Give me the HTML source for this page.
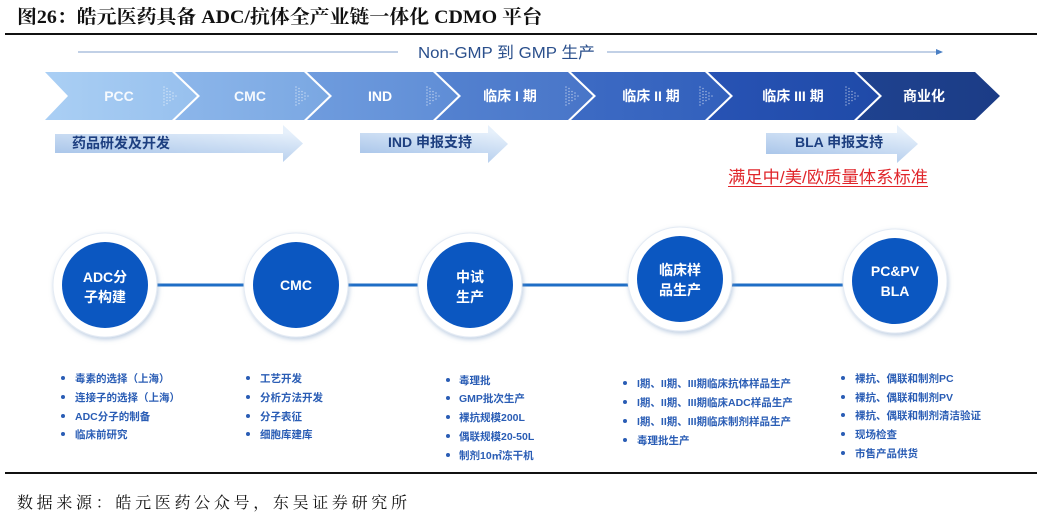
<!DOCTYPE html>
<html><head><meta charset="utf-8">
<style>
html,body{margin:0;padding:0;background:#fff;}
svg{display:block;}
.t{font-family:"Liberation Serif","Noto Serif CJK SC",serif;}
.s{font-family:"Liberation Sans","Noto Sans CJK SC",sans-serif;}
</style></head>
<body>
<svg width="1053" height="521" viewBox="0 0 1053 521" xmlns="http://www.w3.org/2000/svg">
<defs>
  <linearGradient id="ag" x1="0" y1="1" x2="0.55" y2="0">
    <stop offset="0" stop-color="#9dbde6"/>
    <stop offset="1" stop-color="#e6f0fb"/>
  </linearGradient>
  <linearGradient id="c1" x1="0" y1="0" x2="1" y2="0"><stop offset="0" stop-color="#aacff4"/><stop offset="1" stop-color="#97c0ee"/></linearGradient>
  <linearGradient id="c2" x1="0" y1="0" x2="1" y2="0"><stop offset="0" stop-color="#8cb6ea"/><stop offset="1" stop-color="#7aa7e2"/></linearGradient>
  <linearGradient id="c3" x1="0" y1="0" x2="1" y2="0"><stop offset="0" stop-color="#6f9cde"/><stop offset="1" stop-color="#5f8dd6"/></linearGradient>
  <linearGradient id="c4" x1="0" y1="0" x2="1" y2="0"><stop offset="0" stop-color="#5482d0"/><stop offset="1" stop-color="#4875c8"/></linearGradient>
  <linearGradient id="c5" x1="0" y1="0" x2="1" y2="0"><stop offset="0" stop-color="#3d6bc4"/><stop offset="1" stop-color="#3260bc"/></linearGradient>
  <linearGradient id="c6" x1="0" y1="0" x2="1" y2="0"><stop offset="0" stop-color="#2853b4"/><stop offset="1" stop-color="#1f4aa8"/></linearGradient>
  <linearGradient id="c7" x1="0" y1="0" x2="1" y2="0"><stop offset="0" stop-color="#1f428f"/><stop offset="1" stop-color="#1b3c86"/></linearGradient>
  <filter id="sh" x="-30%" y="-30%" width="160%" height="160%">
    <feDropShadow dx="1" dy="2" stdDeviation="2.5" flood-color="#7d9cc4" flood-opacity="0.5"/>
  </filter>
  <g id="dots" fill="#ffffff" fill-opacity="0.5">
    <circle cx="0" cy="-9" r="0.8"/><circle cx="0" cy="-6" r="0.8"/><circle cx="0" cy="-3" r="0.8"/><circle cx="0" cy="0" r="0.8"/><circle cx="0" cy="3" r="0.8"/><circle cx="0" cy="6" r="0.8"/><circle cx="0" cy="9" r="0.8"/>
    <circle cx="3" cy="-7.5" r="0.8"/><circle cx="3" cy="-4.5" r="0.8"/><circle cx="3" cy="-1.5" r="0.8"/><circle cx="3" cy="1.5" r="0.8"/><circle cx="3" cy="4.5" r="0.8"/><circle cx="3" cy="7.5" r="0.8"/>
    <circle cx="6" cy="-4.5" r="0.8"/><circle cx="6" cy="-1.5" r="0.8"/><circle cx="6" cy="1.5" r="0.8"/><circle cx="6" cy="4.5" r="0.8"/>
    <circle cx="9" cy="-3" r="0.8"/><circle cx="9" cy="0" r="0.8"/><circle cx="9" cy="3" r="0.8"/>
    <circle cx="12" cy="0" r="0.8"/>
  </g>
</defs>

<!-- Title -->
<text class="t" x="17" y="23" font-size="19" font-weight="bold" fill="#111" textLength="525" lengthAdjust="spacingAndGlyphs">图26：皓元医药具备 ADC/抗体全产业链一体化 CDMO 平台</text>
<rect x="5" y="33" width="1032" height="2" fill="#111"/>

<!-- Non-GMP line -->
<line x1="78" y1="52" x2="398" y2="52" stroke="#9cb5d6" stroke-width="1.3"/>
<text class="s" x="418" y="58" font-size="16" fill="#2a4f8c" textLength="177" lengthAdjust="spacingAndGlyphs">Non-GMP 到 GMP 生产</text>
<line x1="607" y1="52" x2="938" y2="52" stroke="#9cb5d6" stroke-width="1.3"/>
<polygon points="936,49 943,52 936,55" fill="#4a7fc4"/>

<!-- Chevrons -->
<polygon points="45,72 172,72 197,96 172,120 45,120 68,96" fill="url(#c1)"/>
<polygon points="175,72 304,72 329,96 304,120 175,120 200,96" fill="url(#c2)"/>
<polygon points="307,72 433,72 458,96 433,120 307,120 332,96" fill="url(#c3)"/>
<polygon points="436,72 568,72 593,96 568,120 436,120 461,96" fill="url(#c4)"/>
<polygon points="571,72 705,72 730,96 705,120 571,120 596,96" fill="url(#c5)"/>
<polygon points="708,72 854,72 879,96 854,120 708,120 733,96" fill="url(#c6)"/>
<polygon points="857,72 975,72 1000,96 975,120 857,120 882,96" fill="url(#c7)"/>

<use href="#dots" x="164" y="96"/>
<use href="#dots" x="296" y="96"/>
<use href="#dots" x="427" y="96"/>
<use href="#dots" x="566" y="96"/>
<use href="#dots" x="700" y="96"/>
<use href="#dots" x="846" y="96"/>

<g class="s" font-size="14" font-weight="bold" fill="#ffffff" text-anchor="middle">
  <text x="119" y="101" fill-opacity="0.9">PCC</text>
  <text x="250" y="101" fill-opacity="0.92">CMC</text>
  <text x="380" y="101">IND</text>
  <text x="510" y="101">临床 I 期</text>
  <text x="651" y="101">临床 II 期</text>
  <text x="793" y="101">临床 III 期</text>
  <text x="924" y="101">商业化</text>
</g>

<!-- Support arrows -->
<polygon points="55,134 283,134 283,125 303,143.5 283,162 283,153 55,153" fill="url(#ag)"/>
<polygon points="360,133 488,133 488,125 508,144 488,163 488,153 360,153" fill="url(#ag)"/>
<polygon points="766,133 897,133 897,125 918,144 897,163 897,154 766,154" fill="url(#ag)"/>
<g class="s" font-size="14" font-weight="bold" fill="#1d3f80">
  <text x="72" y="148">药品研发及开发</text>
  <text x="388" y="147">IND 申报支持</text>
  <text x="795" y="147">BLA 申报支持</text>
</g>

<!-- Red standard text -->
<text class="s" x="728" y="183" font-size="17" fill="#e0262b" textLength="200" lengthAdjust="spacingAndGlyphs">满足中/美/欧质量体系标准</text>
<line x1="728" y1="186.5" x2="928" y2="186.5" stroke="#e0262b" stroke-width="1"/>

<!-- Connector lines -->
<g stroke="#1f6ec6" stroke-width="3">
  <line x1="157" y1="285" x2="244" y2="285"/>
  <line x1="348" y1="285" x2="418" y2="285"/>
  <line x1="522" y1="285" x2="628" y2="285"/>
  <line x1="732" y1="285" x2="843" y2="285"/>
</g>

<!-- Circles -->
<g filter="url(#sh)" fill="#ffffff" stroke="#e4ebf4" stroke-width="1">
  <circle cx="105" cy="285" r="52"/>
  <circle cx="296" cy="285" r="52"/>
  <circle cx="470" cy="285" r="52"/>
  <circle cx="680" cy="279" r="52"/>
  <circle cx="895" cy="281" r="52"/>
</g>
<g fill="#0b57c1">
  <circle cx="105" cy="285" r="43"/>
  <circle cx="296" cy="285" r="43"/>
  <circle cx="470" cy="285" r="43"/>
  <circle cx="680" cy="279" r="43"/>
  <circle cx="895" cy="281" r="43"/>
</g>
<g class="s" font-size="14" font-weight="bold" fill="#ffffff" text-anchor="middle">
  <text x="105" y="282">ADC分</text>
  <text x="105" y="302">子构建</text>
  <text x="296" y="290">CMC</text>
  <text x="470" y="282">中试</text>
  <text x="470" y="302">生产</text>
  <text x="680" y="275">临床样</text>
  <text x="680" y="295">品生产</text>
  <text x="895" y="276">PC&amp;PV</text>
  <text x="895" y="296">BLA</text>
</g>

<!-- Bullet lists -->
<g fill="#2a5db5">
  <circle cx="63" cy="378" r="2"/><circle cx="63" cy="397" r="2"/><circle cx="63" cy="416" r="2"/><circle cx="63" cy="434" r="2"/>
  <circle cx="248" cy="378" r="2"/><circle cx="248" cy="397" r="2"/><circle cx="248" cy="416" r="2"/><circle cx="248" cy="434" r="2"/>
  <circle cx="448" cy="380" r="2"/><circle cx="448" cy="398" r="2"/><circle cx="448" cy="417" r="2"/><circle cx="448" cy="436" r="2"/><circle cx="448" cy="455" r="2"/>
  <circle cx="625" cy="383" r="2"/><circle cx="625" cy="402" r="2"/><circle cx="625" cy="421" r="2"/><circle cx="625" cy="440" r="2"/>
  <circle cx="843" cy="378" r="2"/><circle cx="843" cy="397" r="2"/><circle cx="843" cy="415" r="2"/><circle cx="843" cy="434" r="2"/><circle cx="843" cy="453" r="2"/>
</g>
<g class="s" font-size="10.5" font-weight="bold" fill="#2a5db5">
  <text x="75" y="382">毒素的选择（上海）</text>
  <text x="75" y="401">连接子的选择（上海）</text>
  <text x="75" y="420">ADC分子的制备</text>
  <text x="75" y="438">临床前研究</text>

  <text x="260" y="382">工艺开发</text>
  <text x="260" y="401">分析方法开发</text>
  <text x="260" y="420">分子表征</text>
  <text x="260" y="438">细胞库建库</text>

  <text x="459" y="384">毒理批</text>
  <text x="459" y="402">GMP批次生产</text>
  <text x="459" y="421">裸抗规模200L</text>
  <text x="459" y="440">偶联规模20-50L</text>
  <text x="459" y="459">制剂10㎡冻干机</text>

  <text x="637" y="387">I期、II期、III期临床抗体样品生产</text>
  <text x="637" y="406">I期、II期、III期临床ADC样品生产</text>
  <text x="637" y="425">I期、II期、III期临床制剂样品生产</text>
  <text x="637" y="444">毒理批生产</text>

  <text x="855" y="382">裸抗、偶联和制剂PC</text>
  <text x="855" y="401">裸抗、偶联和制剂PV</text>
  <text x="855" y="419">裸抗、偶联和制剂清洁验证</text>
  <text x="855" y="438">现场检查</text>
  <text x="855" y="457">市售产品供货</text>
</g>

<!-- Bottom rule and source -->
<rect x="5" y="472" width="1032" height="2" fill="#111"/>
<text class="t" x="17" y="508" font-size="16" fill="#111" textLength="390" lengthAdjust="spacing">数据来源：皓元医药公众号，东吴证券研究所</text>
</svg>
</body></html>
